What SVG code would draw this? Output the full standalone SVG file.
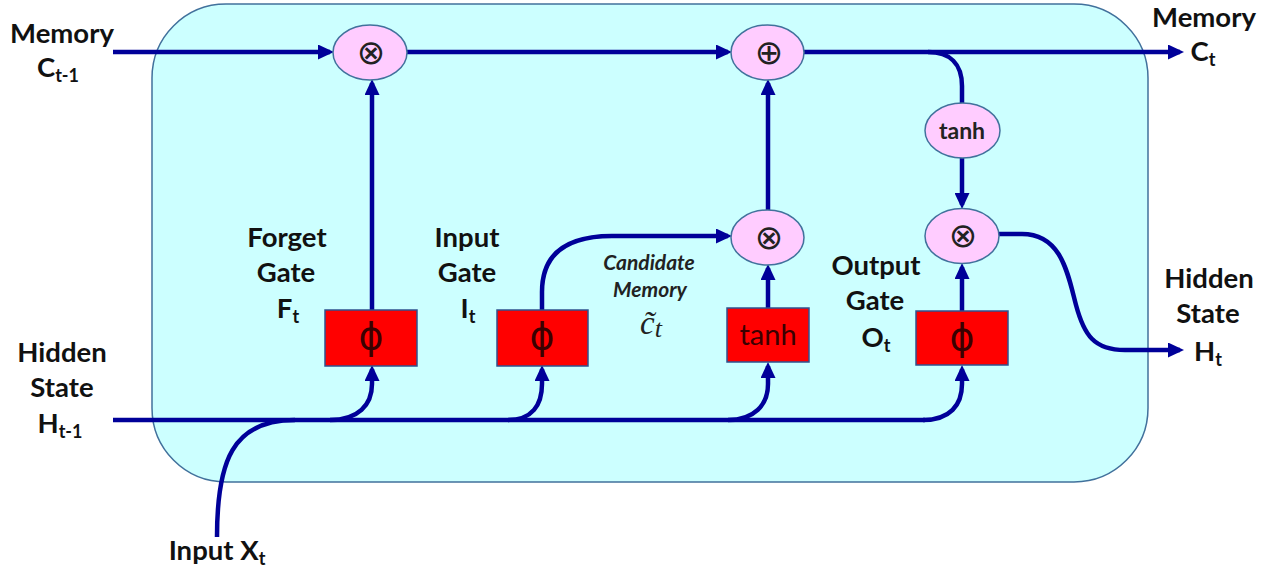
<svg xmlns="http://www.w3.org/2000/svg" width="1267" height="571" viewBox="0 0 1267 571">
<style>
.lbl{font-family:Lato,"Open Sans","Liberation Sans",sans-serif;font-weight:bold;font-size:27.5px;fill:#111;text-anchor:middle}
.sub{font-size:18px}
.cand{font-family:Lato,"Open Sans","Liberation Sans",sans-serif;font-weight:bold;font-style:italic;font-size:21px;fill:#222;text-anchor:middle}
.op{fill:#ffccff;stroke:#41719c;stroke-width:1.5}
.box{fill:#ff0000;stroke:#2f528f;stroke-width:1.5}
.sym{font-family:"DejaVu Sans",sans-serif;font-size:34px;fill:#222;text-anchor:middle}
.phi{font-family:"DejaVu Sans",sans-serif;font-size:38px;fill:#3a0000;text-anchor:middle}
.boxt{font-family:Lato,"Liberation Sans",sans-serif;font-size:29px;fill:#3a0000;text-anchor:middle}
.ellt{font-family:Lato,"Liberation Sans",sans-serif;font-weight:bold;font-size:23px;fill:#222;text-anchor:middle}
.w{fill:none;stroke:#000099;stroke-width:4.5;marker-end:url(#ah)}
.wn{fill:none;stroke:#000099;stroke-width:4.5}
</style>
<defs>
<marker id="ah" markerUnits="userSpaceOnUse" markerWidth="16" markerHeight="15" refX="12" refY="7.5" orient="auto" viewBox="0 0 16 15">
<path d="M0,0 L16,7.5 L0,15 Z" fill="#000099"/>
</marker>
</defs>
<g id="cell">
<rect x="152" y="4" width="996" height="478" rx="74" ry="74" fill="#ccffff" stroke="#41719c" stroke-width="1.5"/>
</g>
<g id="connectors">
<path class="w" d="M113 52 L330 52"/>
<path class="w" d="M407 52 L728 52"/>
<path class="w" d="M804 52 L1180 52"/>
<path class="wn" d="M928 52 C950 52 962 64 962 86 L962 103"/>
<path class="w" d="M962 158 L962 205"/>
<path class="w" d="M372 310 L372 83"/>
<path class="w" d="M768 210 L768 83"/>
<path class="w" d="M768 308 L768 268"/>
<path class="w" d="M962 311 L962 267"/>
<path class="w" d="M542 310 L542 292 C542 255 565 236 612 236 L728 236"/>
<path class="w" d="M999 234 L1022 234 C1062 234 1068 275 1076 305 C1084 335 1094 350 1125 350 L1180 350"/>
<path class="wn" d="M113 420 L925 420"/>
<path class="wn" d="M217 537 C217 462 232 420 295 420"/>
<path class="w" d="M330 420 C358 420 372 405 372 384 L372 369"/>
<path class="w" d="M508 420 C532 420 542 405 542 384 L542 369"/>
<path class="w" d="M728 420 C754 420 768 405 768 384 L768 366"/>
<path class="w" d="M923 420 C950 420 962 405 962 384 L962 369"/>
</g>
<g id="mul-forget">
<ellipse class="op" cx="370" cy="52.5" rx="37" ry="27.5"/>
<text class="sym" x="371" y="64">⊗</text>
</g>
<g id="add-memory">
<ellipse class="op" cx="767.5" cy="52.5" rx="36.5" ry="27.5"/>
<text class="sym" x="769" y="64">⊕</text>
</g>
<g id="tanh-memory">
<ellipse class="op" cx="962.5" cy="130.5" rx="37.5" ry="27.5"/>
<text class="ellt" x="962" y="139">tanh</text>
</g>
<g id="mul-input">
<ellipse class="op" cx="767.5" cy="237.5" rx="36.5" ry="27.5"/>
<text class="sym" x="769" y="249">⊗</text>
</g>
<g id="mul-output">
<ellipse class="op" cx="962" cy="236" rx="37" ry="27.5"/>
<text class="sym" x="963" y="247">⊗</text>
</g>
<g id="forget-gate">
<rect class="box" x="325" y="310" width="92" height="56"/>
<text class="phi" x="371" y="349">ϕ</text>
</g>
<g id="input-gate">
<rect class="box" x="497" y="310" width="91" height="56"/>
<text class="phi" x="542" y="349">ϕ</text>
</g>
<g id="candidate-tanh">
<rect class="box" x="727" y="308" width="82" height="54"/>
<text class="boxt" x="768" y="345">tanh</text>
</g>
<g id="output-gate">
<rect class="box" x="916" y="311" width="92" height="54"/>
<text class="phi" x="962" y="350">ϕ</text>
</g>
<g id="labels">
<text class="lbl" x="62" y="43">Memory</text>
<text class="lbl" x="58" y="77">C<tspan class="sub" dy="5">t-1</tspan></text>
<text class="lbl" x="1204" y="27">Memory</text>
<text class="lbl" x="1203" y="61">C<tspan class="sub" dy="5">t</tspan></text>
<text class="lbl" x="62" y="362">Hidden</text>
<text class="lbl" x="62" y="397">State</text>
<text class="lbl" x="60" y="433">H<tspan class="sub" dy="5">t-1</tspan></text>
<text class="lbl" x="1209" y="288">Hidden</text>
<text class="lbl" x="1208" y="323">State</text>
<text class="lbl" x="1208" y="361">H<tspan class="sub" dy="5">t</tspan></text>
<text class="lbl" x="287" y="247">Forget</text>
<text class="lbl" x="286" y="282">Gate</text>
<text class="lbl" x="288" y="318">F<tspan class="sub" dy="5">t</tspan></text>
<text class="lbl" x="467" y="247">Input</text>
<text class="lbl" x="467" y="282">Gate</text>
<text class="lbl" x="468" y="318">I<tspan class="sub" dy="5">t</tspan></text>
<text class="lbl" x="876" y="275">Output</text>
<text class="lbl" x="875" y="310">Gate</text>
<text class="lbl" x="876" y="347">O<tspan class="sub" dy="5">t</tspan></text>
<text class="cand" x="649" y="270">Candidate</text>
<text class="cand" x="650" y="297">Memory</text>
<text x="651" y="334" style="font-family:'Liberation Serif','DejaVu Serif',serif;font-style:italic;font-size:33px;fill:#222;text-anchor:middle">c̃<tspan dy="3" font-size="26">t</tspan></text>
<text class="lbl" x="217" y="560">Input X<tspan class="sub" dy="5">t</tspan></text>
</g>
</svg>
